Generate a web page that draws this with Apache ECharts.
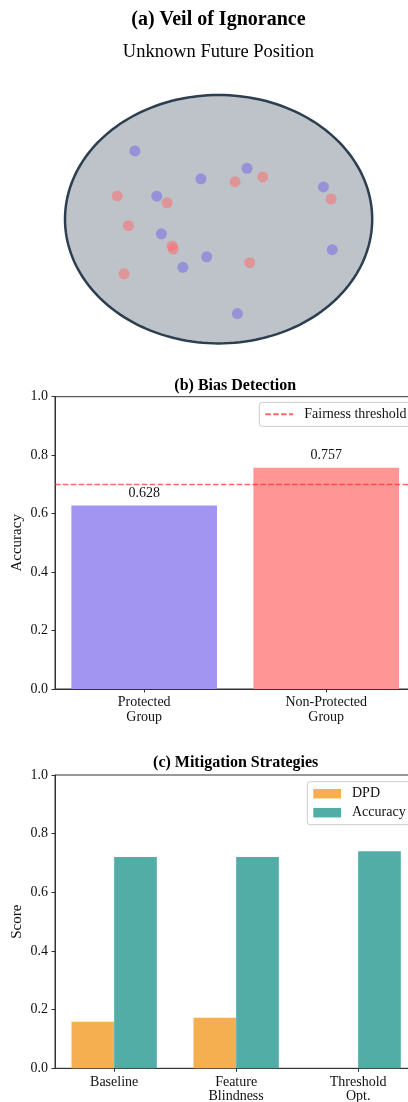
<!DOCTYPE html>
<html>
<head>
<meta charset="utf-8">
<script src="https://cdn.jsdelivr.net/npm/echarts@6/dist/echarts.min.js"></script>
<style>html,body{margin:0;padding:0;background:#fff;}#c{width:408px;height:1102px;}</style>
</head>
<body>
<div id="c"></div>
<script>
// ---- Panel (a): veil of ignorance positions (abstract units 0..10) ----
const ellipseCenter = [5, 5];
const ellipseRadii = [4, 4];
const protectedPoints = [
  [2.82, 7.20], [4.54, 6.30], [5.74, 6.64], [3.39, 5.74], [7.73, 6.04],
  [3.51, 4.53], [4.69, 3.79], [4.07, 3.45], [7.96, 4.02], [5.49, 1.96]
];
const nonProtectedPoints = [
  [2.36, 5.75], [3.66, 5.53], [5.43, 6.21], [6.15, 6.36], [7.93, 5.65],
  [2.65, 4.79], [3.79, 4.14], [3.82, 4.04], [5.81, 3.60], [2.54, 3.24]
];

// ---- Panel (b): bias detection ----
const groupCategories = ['Protected\nGroup', 'Non-Protected\nGroup'];
const groupAccuracy = [0.628, 0.757];
const fairnessThreshold = 0.7;

// ---- Panel (c): mitigation strategies ----
const strategyCategories = ['Baseline', 'Feature\nBlindness', 'Threshold\nOpt.'];
const dpdValues = [0.159, 0.172, 0.0];
const accuracyValues = [0.72, 0.72, 0.74];

const FONT = "'Liberation Serif','DejaVu Serif','Times New Roman',serif";
const AX = '#333';
const groupColors = ['#a295f2', '#ff9595'];
const dpdColor = '#f5ae50';
const accColor = '#51ada6';

const chart = echarts.init(document.getElementById('c'), null, {renderer: 'canvas'});

function yAxisCfg(gridIndex, name) {
  return {
    type: 'value', gridIndex, min: 0, max: 1, interval: 0.2,
    name, nameLocation: 'middle', nameGap: 30, nameMoveOverlap: false,
    nameTextStyle: {fontFamily: FONT, fontSize: 15, color: '#111'},
    axisLine: {show: true, onZero: false, lineStyle: {color: AX, width: 1}},
    axisTick: {show: true, length: 3.5, lineStyle: {color: AX}},
    axisLabel: {fontFamily: FONT, fontSize: 14, color: '#111', margin: 7,
      formatter: v => v.toFixed(1)},
    splitLine: {show: false}
  };
}
function xAxisCfg(gridIndex, min, max, cats) {
  const idx = cats.map((_, i) => i);
  return {
    type: 'value', gridIndex, min, max,
    axisLine: {show: true, onZero: false, lineStyle: {color: AX, width: 1}},
    axisTick: {show: true, length: 3.5, lineStyle: {color: AX}, customValues: idx},
    axisLabel: {fontFamily: FONT, fontSize: 14, color: '#111', margin: 6.5, lineHeight: 14.5,
      customValues: idx, formatter: v => cats[Math.round(v)] || ''},
    splitLine: {show: false}
  };
}

const option = {
  backgroundColor: '#fff',
  animation: false,
  graphic: [
    {type: 'text', style: {text: '(a) Veil of Ignorance', x: 218.4, y: 20,
      align: 'center', verticalAlign: 'middle', font: "bold 20px " + FONT, fill: '#000'}},
    {type: 'text', style: {text: 'Unknown Future Position', x: 218.4, y: 51.7,
      align: 'center', verticalAlign: 'middle', font: "18.5px " + FONT, fill: '#000'}},
    {type: 'text', style: {text: '(b) Bias Detection', x: 235.2, y: 385.7,
      align: 'center', verticalAlign: 'middle', font: "bold 16px " + FONT, fill: '#000'}},
    {type: 'text', style: {text: '(c) Mitigation Strategies', x: 235.7, y: 763.3,
      align: 'center', verticalAlign: 'middle', font: "bold 16px " + FONT, fill: '#000'}}
  ],
  legend: [
    {
      data: ['Fairness threshold'], left: 259.3, top: 402.3,
      padding: [5, 12, 5, 5], itemWidth: 28, itemHeight: 12,
      itemStyle: {opacity: 0},
      backgroundColor: 'rgba(255,255,255,0.85)', borderColor: '#cccccc', borderWidth: 1, borderRadius: 3,
      textStyle: {fontFamily: FONT, fontSize: 14, color: '#111', padding: [0, 0, 0, 6]}
    },
    {
      data: ['DPD', 'Accuracy'], left: 307.3, top: 781.7, orient: 'vertical',
      padding: [5, 12, 5, 6], itemWidth: 27.7, itemHeight: 9.5, itemGap: 5, icon: 'rect',
      backgroundColor: 'rgba(255,255,255,0.85)', borderColor: '#cccccc', borderWidth: 1, borderRadius: 3,
      textStyle: {fontFamily: FONT, fontSize: 14, color: '#111', padding: [0, 0, 0, 6]}
    }
  ],
  grid: [
    {left: 26.6, top: 63.95, width: 384, height: 310.5, show: false,
      containLabel: false, outerBoundsMode: 'none'},
    {left: 55, top: 396.7, width: 360.4, height: 292.3, show: true, borderColor: AX, borderWidth: 1,
      containLabel: false, outerBoundsMode: 'none'},
    {left: 55, top: 775, width: 362.3, height: 293.3, show: true, borderColor: AX, borderWidth: 1,
      containLabel: false, outerBoundsMode: 'none'}
  ],
  xAxis: [
    {type: 'value', gridIndex: 0, min: 0, max: 10, show: false},
    xAxisCfg(1, -0.49, 1.49, groupCategories),
    xAxisCfg(2, -0.485, 2.485, strategyCategories)
  ],
  yAxis: [
    {type: 'value', gridIndex: 0, min: 0, max: 10, show: false},
    yAxisCfg(1, 'Accuracy'),
    yAxisCfg(2, 'Score')
  ],
  series: [
    {
      type: 'custom', xAxisIndex: 0, yAxisIndex: 0, z: 1, silent: true,
      data: [[ellipseCenter[0], ellipseCenter[1], ellipseRadii[0], ellipseRadii[1]]],
      renderItem: function (params, api) {
        const cx = api.value(0), cy = api.value(1), rx = api.value(2), ry = api.value(3);
        const pts = [];
        for (let k = 0; k < 180; k++) {
          const t = k / 180 * Math.PI * 2;
          pts.push(api.coord([cx + rx * Math.cos(t), cy + ry * Math.sin(t)]));
        }
        return {type: 'polygon', shape: {points: pts},
          style: {fill: '#bdc3c9', stroke: '#2c3e50', lineWidth: 2.5}};
      }
    },
    {
      type: 'scatter', name: 'Protected', xAxisIndex: 0, yAxisIndex: 0, z: 3,
      symbolSize: 11, data: protectedPoints,
      itemStyle: {color: 'rgba(108,92,231,0.6)'}
    },
    {
      type: 'scatter', name: 'Non-protected', xAxisIndex: 0, yAxisIndex: 0, z: 3,
      symbolSize: 11, data: nonProtectedPoints,
      itemStyle: {color: 'rgba(255,107,107,0.65)'}
    },
    {
      type: 'bar', name: 'Group accuracy', xAxisIndex: 1, yAxisIndex: 1, barWidth: 145.6,
      data: groupAccuracy.map((v, i) => ({value: [i, v], itemStyle: {color: groupColors[i]}})),
      label: {show: true, position: 'top', distance: 5, fontFamily: FONT, fontSize: 14, color: '#111',
        formatter: p => p.value[1].toFixed(3)}
    },
    {
      type: 'line', name: 'Fairness threshold', xAxisIndex: 1, yAxisIndex: 1, z: 5,
      symbol: 'none', silent: true,
      data: [[-0.49, fairnessThreshold], [1.49, fairnessThreshold]],
      lineStyle: {color: 'rgba(255,40,40,0.7)', width: 1.5, type: [5.5, 2.4]},
      itemStyle: {color: 'rgba(255,40,40,0.7)'}
    },
    {
      type: 'bar', name: 'DPD', xAxisIndex: 2, yAxisIndex: 2, barWidth: 42.67, barGap: '0%',
      data: dpdValues.map((v, i) => [i, v]), itemStyle: {color: dpdColor}
    },
    {
      type: 'bar', name: 'Accuracy', xAxisIndex: 2, yAxisIndex: 2, barWidth: 42.67, barGap: '0%',
      data: accuracyValues.map((v, i) => [i, v]), itemStyle: {color: accColor}
    }
  ]
};
chart.setOption(option);
</script>
</body>
</html>
